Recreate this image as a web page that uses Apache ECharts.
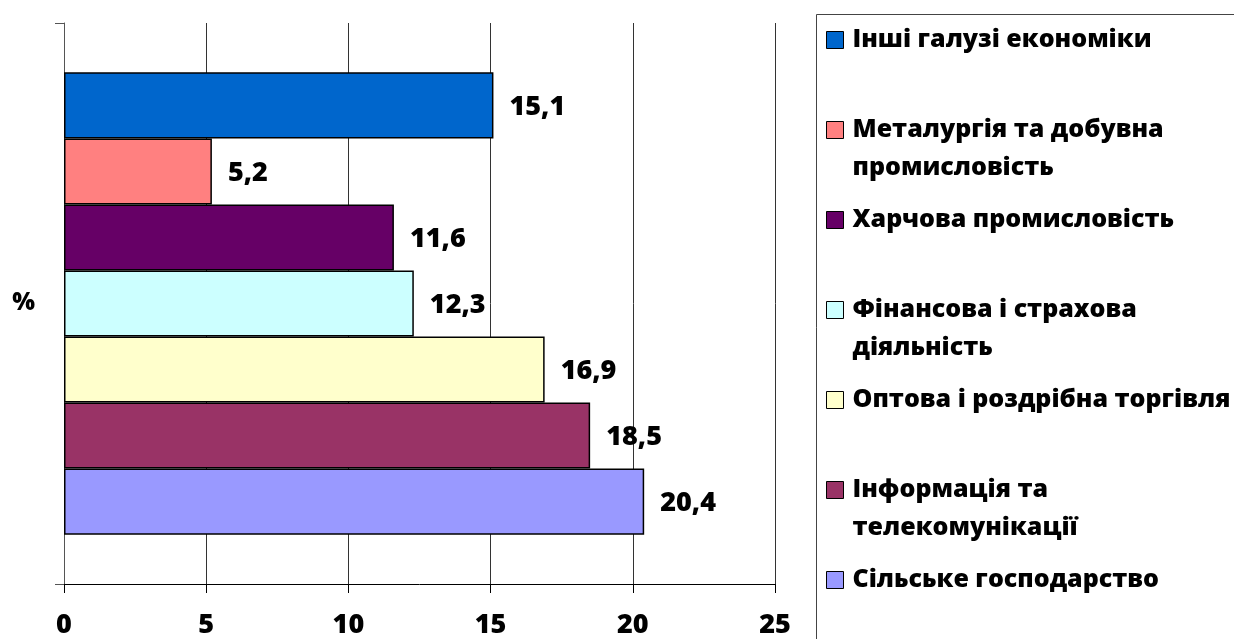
<!DOCTYPE html>
<html>
<head>
<meta charset="utf-8">
<script src="https://cdn.jsdelivr.net/npm/echarts@6/dist/echarts.min.js"></script>
<style>html,body{margin:0;padding:0;background:#fff}#c{width:1234px;height:639px}</style>
</head>
<body>
<div id="c"></div>
<script>
// ---- data ----
const categories = ['%'];
const seriesNames = [
  'Інші галузі економіки',
  'Металургія та добувна промисловість',
  'Харчова промисловість',
  'Фінансова і страхова діяльність',
  'Оптова і роздрібна торгівля',
  'Інформація та телекомунікації',
  'Сільське господарство'
];
const legendLabels = [
  'Інші галузі економіки',
  'Металургія та добувна\nпромисловість',
  'Харчова промисловість',
  'Фінансова і страхова\nдіяльність',
  'Оптова і роздрібна торгівля',
  'Інформація та\nтелекомунікації',
  'Сільське господарство'
];
const seriesValues = [15.1, 5.2, 11.6, 12.3, 16.9, 18.5, 20.4];
const seriesColors = ['#0066CC', '#FF8080', '#660066', '#CCFFFF', '#FFFFCC', '#993366', '#9999FF'];
const xTicks = [0, 5, 10, 15, 20, 25];

const FONT = '"Open Sans"';
const W = 800;
const chart = echarts.init(document.getElementById('c'), null, {renderer: 'canvas'});

const series = seriesNames.map((name, i) => ({
  name: name,
  type: 'bar',
  data: [seriesValues[i]],
  barGap: '0%',
  barCategoryGap: '17.6%',
  itemStyle: {color: seriesColors[i], borderColor: '#000', borderWidth: 1.5},
  label: {
    show: true, position: 'right', distance: 16, offset: [0, 2],
    fontFamily: FONT, fontWeight: W, fontSize: 27, color: '#000',
    formatter: p => String(p.value).replace('.', ',')
  }
}));

chart.setOption({
  animation: false,
  backgroundColor: '#fff',
  grid: {left: 64, right: 459, top: 23, bottom: 55, containLabel: false},
  xAxis: {
    type: 'value', min: xTicks[0], max: xTicks[xTicks.length - 1], interval: 5,
    axisLine: {show: true, lineStyle: {color: '#000', width: 1}},
    axisTick: {show: true, length: 9, lineStyle: {color: '#000'}},
    splitLine: {show: true, lineStyle: {color: '#333', width: 1}},
    axisLabel: {fontFamily: FONT, fontWeight: W, fontSize: 27, color: '#000', margin: 28}
  },
  yAxis: {
    type: 'category', data: categories,
    axisLine: {show: true, lineStyle: {color: '#555', width: 1}},
    axisTick: {show: true, length: 9, lineStyle: {color: '#555'}},
    axisLabel: {fontFamily: FONT, fontWeight: W, fontSize: 24, color: '#000', margin: 29}
  },
  legend: {
    orient: 'vertical', left: 826, top: -17, padding: 0,
    itemWidth: 17, itemHeight: 17, itemGap: -24,
    icon: 'rect',
    itemStyle: {borderColor: '#000', borderWidth: 1},
    data: seriesNames,
    formatter: name => {
      const t = legendLabels[seriesNames.indexOf(name)];
      return ' \n' + (t.indexOf('\n') >= 0 ? t : t + '\n ');
    },
    textStyle: {fontFamily: FONT, fontWeight: W, fontSize: 25, color: '#000', lineHeight: 38, padding: [0, 0, 0, 4]}
  },
  graphic: [{
    type: 'rect', left: 814, top: 12, silent: true,
    shape: {x: 0, y: 0, width: 500, height: 700},
    style: {fill: 'none', stroke: '#444', lineWidth: 1}
  }],
  series: series
});
</script>
</body>
</html>
